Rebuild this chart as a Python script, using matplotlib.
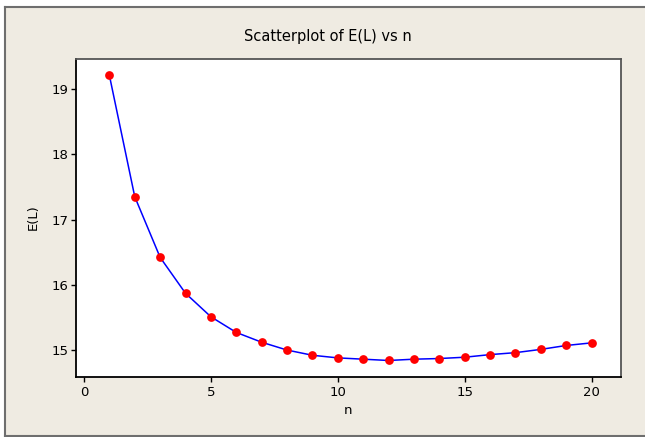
import matplotlib
matplotlib.use('Agg')
import matplotlib.pyplot as plt
from matplotlib.lines import Line2D

# data
n = list(range(1, 21))
el = [19.21, 17.35, 16.42, 15.87, 15.51, 15.27, 15.12, 15.00, 14.92, 14.88,
      14.86, 14.84, 14.86, 14.87, 14.89, 14.93, 14.96, 15.01, 15.07, 15.11]
xticks = [0, 5, 10, 15, 20]
yticks = [15, 16, 17, 18, 19]

W, H = 645, 437
bg = '#EFEBE2'

fig = plt.figure(figsize=(W / 100, H / 100), dpi=100)
fig.patch.set_facecolor('white')

# beige panel with a grey frame (left, top, bottom)
fig.patches.append(plt.Rectangle((5 / W, 1 - 436 / H), 1, (436 - 7) / H,
                                 transform=fig.transFigure, facecolor=bg,
                                 edgecolor='none', zorder=-10))
for xs, ys in [([5, 5], [7, 436]), ([5, W], [7, 7]), ([5, W], [436, 436])]:
    fig.lines.append(Line2D([x / W for x in xs], [1 - y / H for y in ys],
                            transform=fig.transFigure, color='#6E6E6E', lw=1.5))

ax = fig.add_axes([76 / W, 1 - 377 / H, 545 / W, 318 / H])
ax.set_facecolor('white')
ax.plot(n, el, color='#0000FF', lw=1.1, zorder=2)
ax.plot(n, el, 'o', color='#FF0000', markersize=6.3, markeredgewidth=0, zorder=3)

ax.set_xlim(-0.315, 21.16)
ax.set_ylim(14.587, 19.46)
ax.set_xticks(xticks)
ax.set_yticks(yticks)
ax.tick_params(direction='out', length=3.8, width=1, labelsize=9.5)
ax.tick_params(axis='x', pad=3)
ax.tick_params(axis='y', pad=1.5)
for side in ['left', 'bottom']:
    ax.spines[side].set_color('black')
    ax.spines[side].set_linewidth(1.3)
for side in ['top', 'right']:
    ax.spines[side].set_color('#555555')
    ax.spines[side].set_linewidth(1.3)

fig.text(328 / W, 1 - 37 / H, 'Scatterplot of E(L) vs n', ha='center', va='center',
         fontsize=10.5)
fig.text(348 / W, 1 - 411 / H, 'n', ha='center', va='center', fontsize=9.5)
fig.text(33 / W, 1 - 217 / H, 'E(L)', ha='center', va='center', rotation=90,
         fontsize=9.5)

fig.savefig('out.png', dpi=100, facecolor=fig.get_facecolor())
